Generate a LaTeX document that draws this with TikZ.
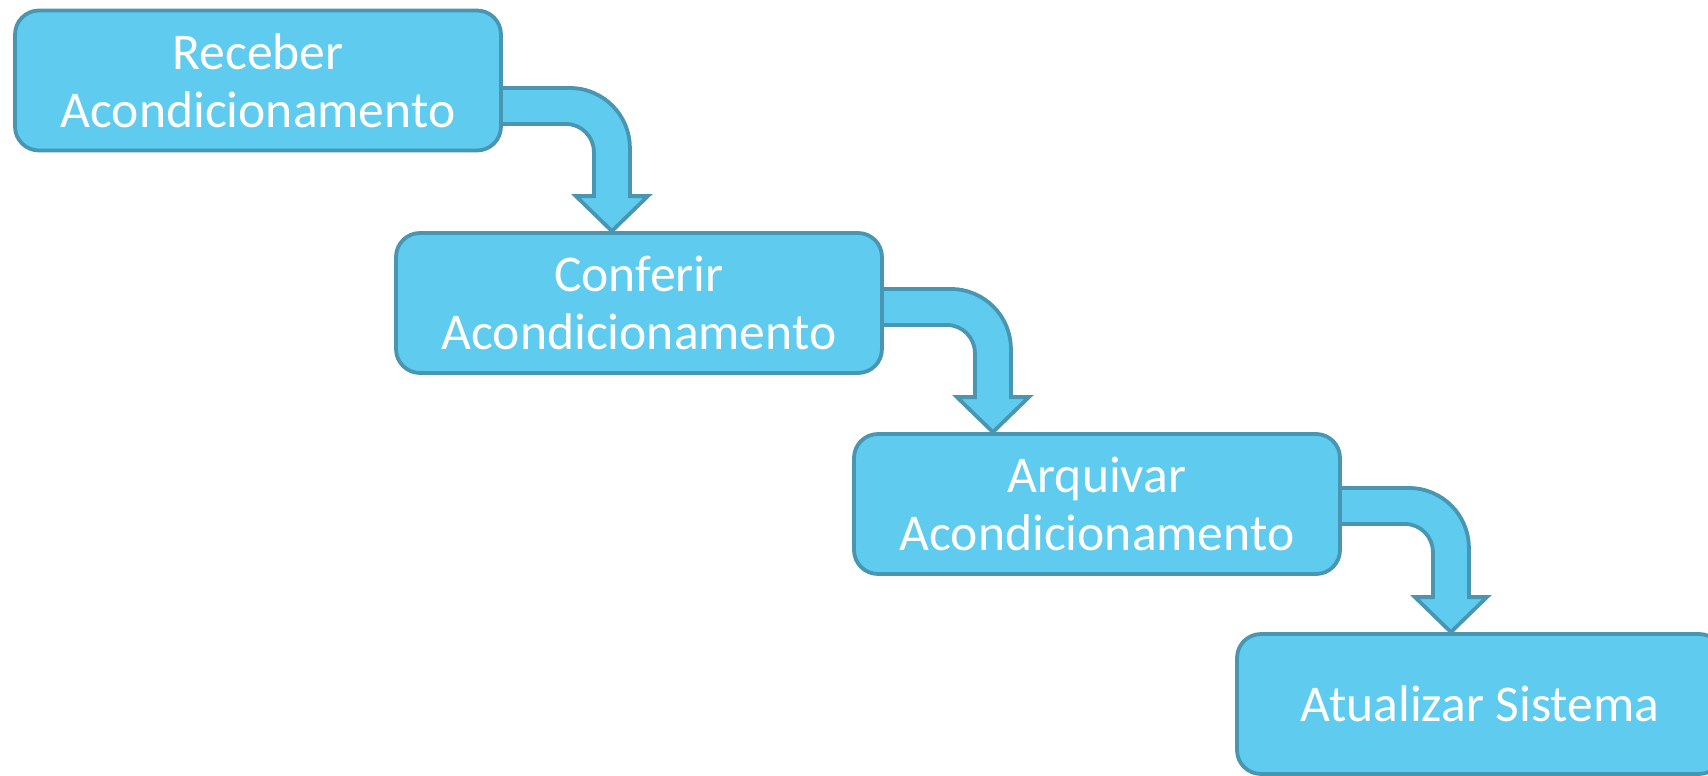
\documentclass[tikz,border=0pt]{standalone}
\usepackage{fontspec}
\setmainfont{Carlito}
\usetikzlibrary{positioning, calc}
\definecolor{azulclaro}{HTML}{5FCBEF}
\definecolor{azulborda}{HTML}{4896B2}
\tikzstyle{etapa} = [rectangle, rounded corners=12pt, minimum width=243pt, minimum height=70pt, text centered, align=center, draw=azulborda, line width=1.9pt, fill=azulclaro, text=white, font=\fontsize{25.8}{29}\selectfont]
\tikzstyle{seta} = [draw=azulborda, line width=1.9pt, fill=azulclaro, line join=miter]
% seta dobrada: #1 origem, #2 destino, #3 altura da faixa
\newcommand{\setadobrada}[3]{%
  \coordinate (haste) at ($(#1.east)+(54.5pt,#3)$);
  \coordinate (ponta) at (haste |- #2.north);
  \draw [seta] ($(#1.east)+(-0.95pt,#3)$) -- ($(haste)+(-21pt,0)$)
    arc[start angle=90, end angle=0, radius=30pt]
    -- ($(ponta)+(9pt,17.5pt)$) -- ++(9pt,0) -- (ponta) -- ++(-18pt,17.5pt) -- ++(9pt,0)
    -- ($(haste)+(-9pt,-32pt)$)
    arc[start angle=0, end angle=90, radius=14pt]
    -- ($(#1.east)+(-0.95pt,#3-18pt)$) -- cycle;
}

\begin{document}
\begin{tikzpicture}

    \useasboundingbox (-129pt,-347.75pt) rectangle (725pt,40.25pt);

    % Etapas
    \node (receber) [etapa] {Receber\\Acondicionamento};
    \node (conferir) [etapa, below of=receber, node distance=111.25pt, xshift=190.5pt] {Conferir\\Acondicionamento};
    \node (arquivar) [etapa, below of=conferir, node distance=100.5pt, xshift=229pt] {Arquivar\\Acondicionamento};
    \node (atualizar) [etapa, below of=arquivar, node distance=100pt, xshift=191.5pt] {Atualizar Sistema};

    % Setas
    \setadobrada{receber}{conferir}{-3.75pt}
    \setadobrada{conferir}{arquivar}{7pt}
    \setadobrada{arquivar}{atualizar}{8pt}

\end{tikzpicture}
\end{document}
